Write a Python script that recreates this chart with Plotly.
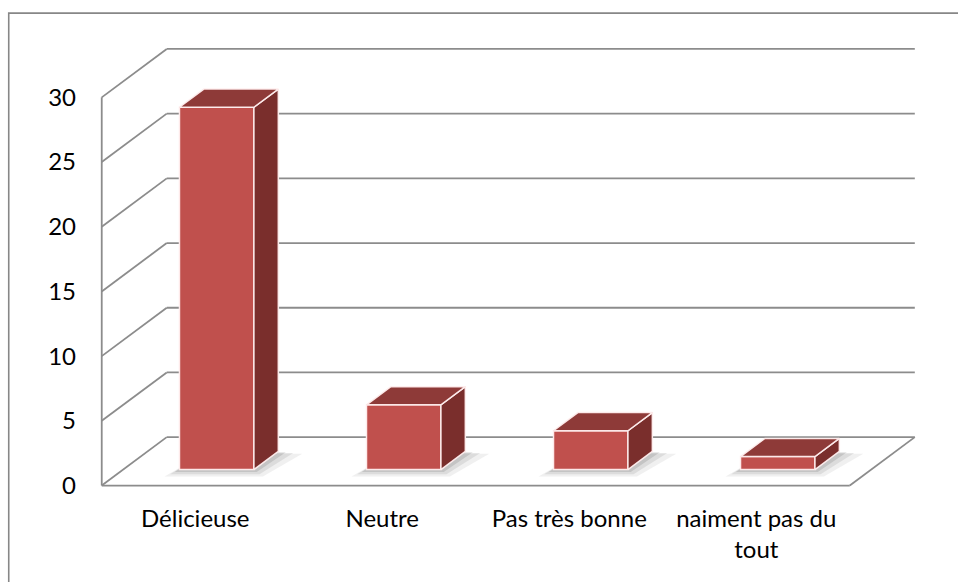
import plotly.graph_objects as go

# ---------------- data ----------------
categories = ["Délicieuse", "Neutre", "Pas très bonne", "naiment pas du tout"]
tick_labels = ["Délicieuse", "Neutre", "Pas très bonne", "naiment pas du<br>tout"]
values = [28, 5, 3, 1]
y_ticks = [0, 5, 10, 15, 20, 25, 30]

# ---------------- geometry / style ----------------
W, H = 958, 582
DX, DY = 0.3476, 3.74      # full depth offset of the 3D box (data units)
F_FRONT = 0.33             # depth fraction where bar front sits
G_DEPTH = 0.375            # bar depth as fraction of full depth
BAR_W = 0.398
X_RANGE = [-0.52, 3.87]
Y_RANGE = [-0.5, 34.2]
PX_X, PX_Y = 187.0, 12.957
X0_PX, Y0_PX = 102.0, 486.0

left = X0_PX + (X_RANGE[0] + 0.5) * PX_X
plot_w = (X_RANGE[1] - X_RANGE[0]) * PX_X
right = W - left - plot_w
top = Y0_PX - Y_RANGE[1] * PX_Y
plot_h = (Y_RANGE[1] - Y_RANGE[0]) * PX_Y
bottom = H - top - plot_h

GRID = "#8c8c8c"
FRONT = "#C0504D"
TOPC = "#8E3A38"
SIDE = "#7A2E2C"
EDGE = "rgba(255,238,238,0.95)"
FONT = "Lato, 'Open Sans', sans-serif"

xl, xr = -0.5, len(categories) - 0.5
shapes = []
line = dict(color=GRID, width=1.8)
# back wall gridlines + left wall diagonals
for v in y_ticks:
    shapes.append(dict(type="line", xref="x", yref="y", x0=xl + DX, y0=v + DY,
                       x1=xr + DX, y1=v + DY, line=line, layer="below"))
    shapes.append(dict(type="line", xref="x", yref="y", x0=xl, y0=v,
                       x1=xl + DX, y1=v + DY, line=line, layer="below"))
# left front vertical edge
shapes.append(dict(type="line", xref="x", yref="y", x0=xl, y0=0, x1=xl,
                   y1=y_ticks[-1], line=line, layer="below"))
# floor front & right edges
shapes.append(dict(type="line", xref="x", yref="y", x0=xl, y0=0, x1=xr, y1=0,
                   line=line, layer="below"))
shapes.append(dict(type="line", xref="x", yref="y", x0=xr, y0=0, x1=xr + DX,
                   y1=DY, line=line, layer="below"))

# soft shadows under bars
for i, v in enumerate(values):
    cx = i + F_FRONT * DX
    yb = F_FRONT * DY
    for k, (ex, ey, op) in enumerate([(0.08, 0.9, 0.08), (0.05, 0.6, 0.11), (0.025, 0.3, 0.15)]):
        x0 = cx - BAR_W / 2 - ex
        x1 = cx + BAR_W / 2 + ex * 0.6
        sx = G_DEPTH * DX
        sy = G_DEPTH * DY
        path = (f"M {x0},{yb - ey * 0.6} L {x1},{yb - ey * 0.6} "
                f"L {x1 + sx + ex},{yb + sy - ey * 0.2} L {x0 + sx + ex},{yb + sy - ey * 0.2} Z")
        shapes.append(dict(type="path", xref="x", yref="y", path=path,
                           fillcolor=f"rgba(60,60,60,{op})", line=dict(width=0),
                           layer="below"))

# outer chart border (paper coordinates relative to plot area)
def px_to_paper_x(px):
    return (px - left) / plot_w

def px_to_paper_y(py):
    return (H - bottom - py) / plot_h

shapes.append(dict(type="rect", xref="paper", yref="paper",
                   x0=px_to_paper_x(9), x1=px_to_paper_x(975),
                   y0=px_to_paper_y(600), y1=px_to_paper_y(13),
                   line=dict(color="#878787", width=1.6), layer="below"))

fig = go.Figure()

# front faces of bars
bar_x = [i + F_FRONT * DX for i in range(len(values))]
fig.add_trace(go.Bar(
    x=bar_x, y=values, base=[F_FRONT * DY] * len(values), width=BAR_W,
    marker=dict(color=FRONT, line=dict(color=EDGE, width=1.5)),
    hoverinfo="skip", showlegend=False))

# top and side faces
for i, v in enumerate(values):
    x0 = bar_x[i] - BAR_W / 2
    x1 = bar_x[i] + BAR_W / 2
    yb = F_FRONT * DY
    yt = yb + v
    sx, sy = G_DEPTH * DX, G_DEPTH * DY
    fig.add_trace(go.Scatter(
        x=[x1, x1, x1 + sx, x1 + sx, x1], y=[yb, yt, yt + sy, yb + sy, yb],
        fill="toself", fillcolor=SIDE, mode="lines",
        line=dict(color=EDGE, width=1.5), hoverinfo="skip", showlegend=False))
    fig.add_trace(go.Scatter(
        x=[x0, x1, x1 + sx, x0 + sx, x0], y=[yt, yt, yt + sy, yt + sy, yt],
        fill="toself", fillcolor=TOPC, mode="lines",
        line=dict(color=EDGE, width=1.5), hoverinfo="skip", showlegend=False))

fig.update_layout(
    width=W, height=H,
    margin=dict(l=left, r=right, t=top, b=bottom, autoexpand=False),
    paper_bgcolor="white", plot_bgcolor="rgba(0,0,0,0)",
    shapes=shapes, showlegend=False,
    font=dict(family=FONT, size=24, color="#000000"),
    xaxis=dict(range=X_RANGE, tickmode="array", tickvals=list(range(len(categories))),
               ticktext=tick_labels, showgrid=False, zeroline=False, showline=False,
               ticks="", ticklabelstandoff=10, fixedrange=True),
    yaxis=dict(range=Y_RANGE, tickmode="array", tickvals=y_ticks,
               ticktext=[str(t) for t in y_ticks], showgrid=False, zeroline=False,
               showline=False, ticks="", ticklabelstandoff=21, fixedrange=True),
)

fig.write_html("out.html", config={"displayModeBar": False},
               post_script="document.body.style.margin='0px';document.body.style.overflow='hidden';")
